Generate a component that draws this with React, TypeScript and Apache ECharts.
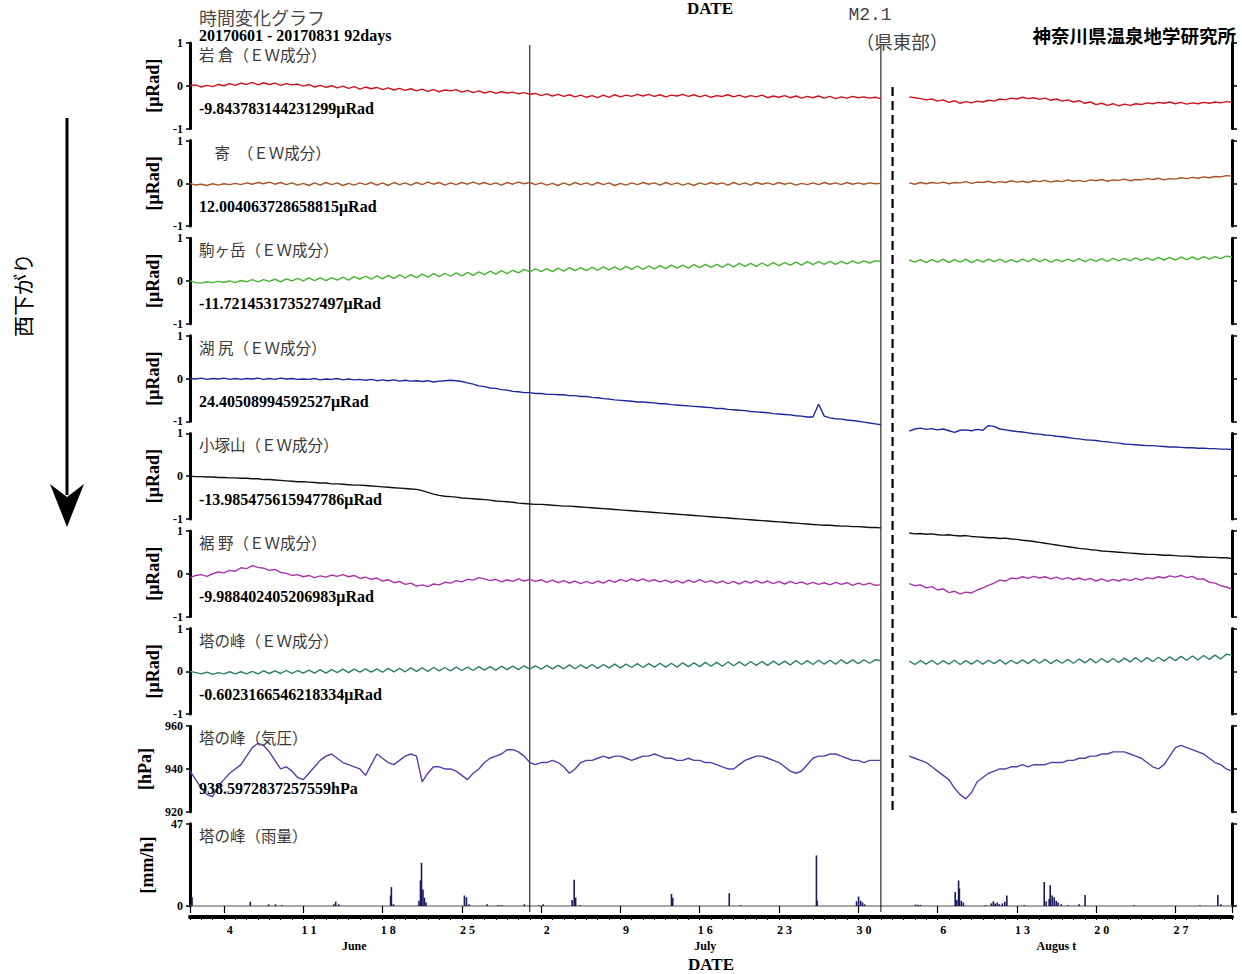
import React, { useEffect, useRef } from "react";
import * as echarts from "echarts";

// ---------- DATA ----------
const stationTitles = [
  "岩 倉（ＥＷ成分）",
  "　寄　（ＥＷ成分）",
  "駒ヶ岳（ＥＷ成分）",
  "湖 尻（ＥＷ成分）",
  "小塚山（ＥＷ成分）",
  "裾 野（ＥＷ成分）",
  "塔の峰（ＥＷ成分）",
  "塔の峰（気圧）",
  "塔の峰（雨量）",
];
const baseValueTexts = [
  "-9.843783144231299μRad",
  "12.004063728658815μRad",
  "-11.721453173527497μRad",
  "24.40508994592527μRad",
  "-13.985475615947786μRad",
  "-9.988402405206983μRad",
  "-0.6023166546218334μRad",
  "938.5972837257559hPa",
];
const yUnitNames = ["[μRad]", "[μRad]", "[μRad]", "[μRad]", "[μRad]", "[μRad]", "[μRad]", "[hPa]", "[mm/h]"];
const seriesColors = ["#d0121c", "#a4552a", "#46b232", "#1c2a9e", "#111111", "#a834a8", "#2e7d6e", "#5a3ca8"];

// sampled every 12 hours from 2017-06-01 00:00 (index * 0.5 day); null = no data
const iwakura = [
  0.00, 0.02, -0.03, 0.01, -0.02, 0.03, 0.00, 0.05, 0.01, 0.06,
  0.03, 0.08, 0.02, 0.07, 0.03, 0.06, 0.01, 0.05, 0.02, 0.04,
  -0.01, 0.03, -0.03, 0.01, -0.04, 0.00, -0.05, -0.01, -0.06, -0.02,
  -0.08, -0.03, -0.07, -0.04, -0.09, -0.05, -0.10, -0.06, -0.11, -0.07,
  -0.12, -0.08, -0.13, -0.09, -0.14, -0.10, -0.12, -0.09, -0.15, -0.11,
  -0.16, -0.12, -0.17, -0.13, -0.18, -0.14, -0.17, -0.15, -0.19, -0.16,
  -0.20, -0.18, -0.23, -0.19, -0.24, -0.20, -0.25, -0.21, -0.26, -0.22,
  -0.27, -0.23, -0.28, -0.22, -0.27, -0.21, -0.26, -0.22, -0.25, -0.20,
  -0.24, -0.20, -0.25, -0.21, -0.26, -0.22, -0.24, -0.20, -0.25, -0.21,
  -0.26, -0.22, -0.27, -0.23, -0.25, -0.21, -0.26, -0.22, -0.27, -0.23,
  -0.26, -0.22, -0.28, -0.24, -0.27, -0.23, -0.28, -0.24, -0.29, -0.25,
  -0.28, -0.24, -0.29, -0.25, -0.30, -0.26, -0.29, -0.25, -0.28, -0.26,
  -0.29, -0.27, -0.30,
  null, null, null, null,
  -0.26, -0.28, -0.30,
  -0.33, -0.31, -0.36, -0.33, -0.39, -0.35, -0.41, -0.37, -0.40, -0.36,
  -0.38, -0.34, -0.36, -0.31, -0.33, -0.29, -0.31, -0.27, -0.30, -0.28,
  -0.32, -0.29, -0.34, -0.31, -0.36, -0.33, -0.38, -0.35, -0.41, -0.38,
  -0.44, -0.41, -0.46, -0.42, -0.47, -0.43, -0.46, -0.42, -0.44, -0.40,
  -0.42, -0.39, -0.41, -0.38, -0.42, -0.39, -0.43, -0.40, -0.42, -0.39,
  -0.41, -0.38, -0.40, -0.37, -0.39,
];
const yadoriki = [
  0.00, -0.04, -0.02, -0.05, -0.01, -0.04, -0.01, -0.03, 0.00, -0.03,
  0.01, -0.02, 0.02, -0.01, 0.03, -0.02, 0.02, -0.03, 0.01, -0.04,
  0.00, -0.05, 0.01, -0.04, 0.02, -0.03, 0.01, -0.05, 0.00, -0.04,
  0.01, -0.03, 0.02, -0.04, 0.01, -0.05, 0.02, -0.03, 0.01, -0.04,
  0.02, -0.03, 0.03, -0.02, 0.02, -0.04, 0.01, -0.03, 0.02, -0.02,
  0.03, -0.02, 0.02, -0.03, 0.01, -0.04, 0.02, -0.02, 0.03, -0.01,
  0.02, -0.03, 0.01, -0.04, 0.00, -0.05, 0.01, -0.04, 0.02, -0.03,
  0.01, -0.04, 0.02, -0.03, 0.01, -0.05, 0.00, -0.04, 0.01, -0.03,
  0.02, -0.02, 0.01, -0.04, 0.02, -0.03, 0.01, -0.04, 0.00, -0.05,
  0.01, -0.03, 0.02, -0.02, 0.01, -0.04, 0.02, -0.03, 0.01, -0.04,
  0.02, -0.02, 0.01, -0.03, 0.02, -0.02, 0.01, -0.04, 0.00, -0.03,
  0.01, -0.03, 0.02, -0.02, 0.01, -0.03, 0.02, -0.02, 0.01, -0.02,
  0.01, -0.01, 0.00,
  null, null, null, null,
  0.01, -0.02, 0.02,
  -0.01, 0.02, 0.00, 0.03, -0.01, 0.02, 0.01, 0.04, 0.00, 0.03,
  0.02, 0.05, 0.01, 0.04, 0.02, 0.06, 0.03, 0.05, 0.02, 0.06,
  0.04, 0.07, 0.03, 0.06, 0.04, 0.08, 0.05, 0.07, 0.04, 0.08,
  0.06, 0.09, 0.05, 0.08, 0.07, 0.10, 0.06, 0.09, 0.08, 0.11,
  0.09, 0.12, 0.08, 0.11, 0.10, 0.13, 0.11, 0.14, 0.12, 0.15,
  0.13, 0.16, 0.15, 0.18, 0.17,
];
const komagatake = [
  0.00, -0.04, -0.05, -0.02, -0.04, -0.01, -0.03, 0.00, -0.04, 0.01,
  -0.02, 0.03, -0.02, 0.03, -0.01, 0.04, -0.02, 0.05, 0.00, 0.06,
  0.00, 0.07, 0.01, 0.07, 0.01, 0.08, 0.02, 0.09, 0.02, 0.10,
  0.04, 0.11, 0.04, 0.12, 0.05, 0.13, 0.06, 0.14, 0.07, 0.15,
  0.08, 0.16, 0.09, 0.17, 0.10, 0.18, 0.11, 0.19, 0.12, 0.20,
  0.13, 0.21, 0.15, 0.23, 0.16, 0.24, 0.17, 0.25, 0.19, 0.27,
  0.21, 0.28, 0.22, 0.29, 0.22, 0.30, 0.23, 0.31, 0.24, 0.31,
  0.24, 0.32, 0.25, 0.33, 0.26, 0.33, 0.26, 0.34, 0.27, 0.35,
  0.27, 0.35, 0.28, 0.36, 0.29, 0.37, 0.30, 0.37, 0.30, 0.38,
  0.31, 0.39, 0.32, 0.39, 0.32, 0.40, 0.33, 0.41, 0.34, 0.41,
  0.34, 0.42, 0.35, 0.43, 0.36, 0.43, 0.37, 0.44, 0.37, 0.45,
  0.38, 0.45, 0.39, 0.46, 0.39, 0.46, 0.40, 0.47, 0.41, 0.47,
  0.42, 0.47, 0.46,
  null, null, null, null,
  0.49, 0.44, 0.50,
  0.43, 0.50, 0.44, 0.51, 0.43, 0.50, 0.44, 0.51, 0.43, 0.50,
  0.44, 0.51, 0.45, 0.51, 0.44, 0.50, 0.44, 0.51, 0.45, 0.52,
  0.45, 0.51, 0.44, 0.50, 0.45, 0.51, 0.46, 0.52, 0.45, 0.51,
  0.46, 0.52, 0.46, 0.53, 0.47, 0.53, 0.47, 0.54, 0.48, 0.54,
  0.48, 0.55, 0.49, 0.55, 0.49, 0.56, 0.50, 0.56, 0.50, 0.57,
  0.51, 0.57, 0.52, 0.58, 0.56,
];
const kojiri = [
  0.00, -0.01, 0.01, -0.02, 0.00, -0.01, 0.01, -0.02, 0.00, -0.02,
  0.00, -0.01, 0.01, -0.02, 0.00, -0.02, 0.01, -0.01, 0.00, -0.02,
  -0.01, -0.02, 0.00, -0.03, -0.01, -0.02, 0.00, -0.03, -0.01, -0.03,
  -0.02, -0.04, -0.02, -0.05, -0.03, -0.05, -0.03, -0.06, -0.04, -0.06,
  -0.05, -0.07, -0.05, -0.08, -0.06, -0.05, -0.04, -0.05, -0.07, -0.10,
  -0.13, -0.17, -0.19, -0.22, -0.23, -0.26, -0.27, -0.30, -0.31, -0.33,
  -0.33, -0.35, -0.35, -0.37, -0.37, -0.38, -0.38, -0.40, -0.40, -0.42,
  -0.42, -0.44, -0.45, -0.47, -0.48, -0.50, -0.51, -0.52, -0.53, -0.55,
  -0.55, -0.56, -0.57, -0.59, -0.59, -0.61, -0.62, -0.63, -0.64, -0.65,
  -0.66, -0.67, -0.68, -0.70, -0.70, -0.72, -0.73, -0.74, -0.75, -0.77,
  -0.78, -0.79, -0.80, -0.82, -0.83, -0.84, -0.85, -0.87, -0.88, -0.90,
  -0.90, -0.60, -0.88, -0.92, -0.94, -0.95, -0.97, -0.98, -1.00, -1.02,
  -1.04, -1.06, -1.08,
  null, null, null, null,
  -1.23, -1.18, -1.16,
  -1.19, -1.17, -1.20, -1.18, -1.22, -1.26, -1.21, -1.20, -1.22, -1.19,
  -1.21, -1.10, -1.12, -1.18, -1.20, -1.22, -1.24, -1.25, -1.27, -1.29,
  -1.30, -1.32, -1.33, -1.35, -1.36, -1.38, -1.40, -1.41, -1.43, -1.44,
  -1.45, -1.47, -1.48, -1.50, -1.51, -1.53, -1.54, -1.55, -1.56, -1.57,
  -1.57, -1.58, -1.59, -1.60, -1.60, -1.61, -1.62, -1.62, -1.63, -1.63,
  -1.64, -1.64, -1.65, -1.65, -1.66,
];
const kozukayama = [
  0.00, -0.01, -0.01, -0.02, -0.02, -0.03, -0.03, -0.04, -0.04, -0.05,
  -0.05, -0.06, -0.06, -0.08, -0.08, -0.09, -0.10, -0.11, -0.12, -0.13,
  -0.13, -0.14, -0.15, -0.16, -0.16, -0.18, -0.18, -0.19, -0.20, -0.21,
  -0.21, -0.22, -0.23, -0.24, -0.25, -0.26, -0.27, -0.28, -0.29, -0.30,
  -0.31, -0.34, -0.38, -0.42, -0.45, -0.47, -0.48, -0.49, -0.51, -0.52,
  -0.53, -0.54, -0.55, -0.56, -0.58, -0.59, -0.60, -0.61, -0.63, -0.64,
  -0.65, -0.66, -0.66, -0.67, -0.68, -0.69, -0.70, -0.70, -0.71, -0.72,
  -0.73, -0.74, -0.75, -0.76, -0.77, -0.78, -0.79, -0.80, -0.81, -0.82,
  -0.83, -0.84, -0.85, -0.86, -0.87, -0.88, -0.89, -0.90, -0.91, -0.92,
  -0.93, -0.94, -0.95, -0.96, -0.97, -0.98, -0.99, -1.00, -1.01, -1.02,
  -1.03, -1.04, -1.05, -1.06, -1.07, -1.08, -1.09, -1.10, -1.11, -1.12,
  -1.13, -1.14, -1.15, -1.15, -1.16, -1.17, -1.17, -1.18, -1.18, -1.19,
  -1.20, -1.20, -1.21,
  null, null, null, null,
  -1.33, -1.35, -1.34,
  -1.36, -1.35, -1.37, -1.38, -1.37, -1.39, -1.40, -1.39, -1.41, -1.42,
  -1.43, -1.44, -1.44, -1.46, -1.45, -1.47, -1.48, -1.50, -1.51, -1.53,
  -1.55, -1.57, -1.59, -1.61, -1.63, -1.65, -1.67, -1.69, -1.70, -1.72,
  -1.73, -1.75, -1.76, -1.77, -1.78, -1.79, -1.80, -1.81, -1.82, -1.83,
  -1.83, -1.84, -1.85, -1.85, -1.86, -1.87, -1.87, -1.88, -1.89, -1.89,
  -1.90, -1.90, -1.91, -1.91, -1.93,
];
const susono = [
  -0.09, -0.04, -0.02, -0.06, 0.00, 0.04, 0.02, 0.08, 0.06, 0.14,
  0.12, 0.19, 0.15, 0.13, 0.08, 0.10, 0.03, 0.01, -0.04, -0.02,
  -0.07, -0.04, -0.09, -0.05, -0.08, -0.03, -0.06, -0.02, -0.07, -0.04,
  -0.11, -0.08, -0.13, -0.10, -0.17, -0.14, -0.21, -0.18, -0.25, -0.22,
  -0.29, -0.26, -0.30, -0.24, -0.26, -0.20, -0.22, -0.16, -0.19, -0.13,
  -0.15, -0.09, -0.12, -0.16, -0.13, -0.19, -0.14, -0.18, -0.12, -0.17,
  -0.13, -0.18, -0.14, -0.20, -0.15, -0.21, -0.16, -0.22, -0.17, -0.23,
  -0.18, -0.23, -0.17, -0.22, -0.15, -0.20, -0.13, -0.18, -0.12, -0.17,
  -0.12, -0.18, -0.14, -0.19, -0.15, -0.21, -0.16, -0.22, -0.15, -0.20,
  -0.14, -0.20, -0.16, -0.22, -0.17, -0.23, -0.18, -0.24, -0.17, -0.22,
  -0.16, -0.22, -0.17, -0.23, -0.18, -0.24, -0.18, -0.23, -0.19, -0.25,
  -0.20, -0.25, -0.21, -0.26, -0.20, -0.25, -0.21, -0.27, -0.22, -0.26,
  -0.22, -0.27, -0.26,
  null, null, null, null,
  -0.23, -0.28, -0.26,
  -0.33, -0.30, -0.38, -0.35, -0.44, -0.41, -0.47, -0.43, -0.45, -0.38,
  -0.33, -0.27, -0.22, -0.15, -0.17, -0.10, -0.12, -0.07, -0.11, -0.06,
  -0.10, -0.07, -0.12, -0.08, -0.13, -0.09, -0.14, -0.10, -0.15, -0.11,
  -0.17, -0.12, -0.18, -0.13, -0.17, -0.12, -0.16, -0.11, -0.15, -0.09,
  -0.12, -0.07, -0.10, -0.05, -0.08, -0.04, -0.09, -0.06, -0.13, -0.12,
  -0.20, -0.22, -0.28, -0.31, -0.36,
];
const tonomineEW = [
  0.00, -0.03, -0.06, -0.02, -0.07, -0.03, -0.06, -0.01, -0.06, -0.01,
  -0.06, 0.00, -0.06, 0.01, -0.05, 0.01, -0.05, 0.02, -0.05, 0.02,
  -0.04, 0.03, -0.04, 0.04, -0.04, 0.04, -0.03, 0.05, -0.03, 0.05,
  -0.02, 0.06, -0.02, 0.06, -0.02, 0.07, -0.01, 0.07, -0.01, 0.08,
  0.00, 0.08, 0.00, 0.09, 0.01, 0.09, 0.01, 0.10, 0.02, 0.10,
  0.02, 0.11, 0.03, 0.11, 0.03, 0.12, 0.04, 0.12, 0.04, 0.13,
  0.05, 0.13, 0.05, 0.14, 0.06, 0.14, 0.06, 0.15, 0.06, 0.15,
  0.07, 0.16, 0.07, 0.16, 0.08, 0.17, 0.08, 0.17, 0.09, 0.18,
  0.09, 0.18, 0.10, 0.19, 0.10, 0.19, 0.10, 0.20, 0.11, 0.20,
  0.11, 0.21, 0.12, 0.21, 0.12, 0.22, 0.13, 0.22, 0.13, 0.23,
  0.14, 0.23, 0.14, 0.24, 0.15, 0.24, 0.15, 0.25, 0.16, 0.25,
  0.16, 0.26, 0.17, 0.26, 0.17, 0.27, 0.18, 0.27, 0.18, 0.27,
  0.19, 0.27, 0.25,
  null, null, null, null,
  0.24, 0.16, 0.25,
  0.17, 0.26, 0.16, 0.25, 0.17, 0.26, 0.16, 0.25, 0.17, 0.26,
  0.17, 0.26, 0.18, 0.27, 0.17, 0.26, 0.18, 0.27, 0.18, 0.28,
  0.19, 0.28, 0.18, 0.27, 0.19, 0.28, 0.19, 0.29, 0.20, 0.29,
  0.20, 0.30, 0.21, 0.30, 0.21, 0.31, 0.22, 0.32, 0.22, 0.32,
  0.23, 0.33, 0.24, 0.34, 0.25, 0.35, 0.26, 0.36, 0.27, 0.37,
  0.28, 0.38, 0.29, 0.40, 0.38,
];
const tonominePressure = [
  939, 935, 931, 928, 927, 932, 935, 938, 940, 942,
  946, 950, 952, 951, 948, 944, 940, 941, 939, 936,
  935, 938, 941, 944, 946, 947, 945, 943, 942, 941,
  940, 937, 942, 947, 945, 943, 942, 944, 946, 947,
  946, 934, 938, 941, 941, 940, 940, 939, 937, 935,
  938, 940, 943, 945, 946, 947, 949, 949, 948, 946,
  943, 942, 943, 943, 944, 943, 941, 938, 940, 943,
  944, 944, 945, 946, 945, 946, 946, 945, 944, 945,
  946, 946, 947, 946, 945, 945, 944, 944, 945, 944,
  944, 943, 943, 942, 941, 940, 940, 942, 944, 945,
  946, 946, 945, 944, 943, 941, 939, 938, 939, 942,
  945, 946, 946, 947, 947, 946, 945, 944, 944, 943,
  944, 944, 944,
  null, null, null, null,
  946, 945, 944,
  943, 941, 939, 937, 935, 931, 928, 926, 929, 934,
  936, 938, 939, 940, 940, 941, 941, 942, 941, 942,
  942, 942, 943, 943, 943, 944, 944, 945, 945, 946,
  946, 947, 947, 948, 948, 948, 947, 946, 945, 943,
  941, 940, 942, 946, 950, 951, 950, 949, 948, 947,
  945, 943, 942, 940, 939,
];

// hourly rainfall spikes: day offset from 2017-06-01 00:00, mm/h
const rainDays = [
  0.18, 5.32, 6.94, 7.55, 8.1, 12.69, 12.86, 13.13, 17.71, 17.78, 17.97,
  20.22, 20.35, 20.44, 20.57, 20.7, 20.84, 24.23, 24.41, 24.64, 26.23, 27.22, 27.49, 29.52,
  30.81, 31.19, 33.74, 33.92, 34.05, 34.42, 42.51, 42.62, 47.61, 48.62, 55.31, 55.37,
  58.85, 59.03, 59.21, 59.38, 59.56, 64.05, 64.27, 64.49, 67.56, 67.7, 67.86, 67.93, 68.1, 68.28,
  70.22, 70.75, 70.93, 71.1, 71.28, 71.45, 71.72, 71.94, 72.12, 73.66,
  75.42, 75.59, 75.86, 75.95, 76.12, 76.3, 76.48, 76.65, 76.92, 77.53, 78.5, 79.03,
  83.35, 89.16, 90.75, 91.01,
];
const rainMm = [
  5, 2.4, 1, 1, 0.5, 1, 2.5, 1, 6, 10.8, 1,
  3, 14.6, 24.7, 9.4, 4.8, 2, 6, 5, 1, 1, 0.5, 0.5, 1,
  0.5, 1, 3.5, 15, 4.8, 0.5, 6.9, 4.7, 7.3, 0.5, 28.9, 3,
  2.7, 5.4, 3, 2, 1, 0.8, 0.7, 0.6, 8, 3.5, 14.6, 10, 3, 2,
  0.5, 1.5, 2.7, 1.5, 2, 1, 1.5, 2.5, 6, 0.5,
  13.7, 2.7, 4, 11.9, 6, 5, 3, 2, 1, 0.5, 1, 6.3,
  0.5, 0.5, 6.3, 1,
];

const monthLengths = [30, 31, 31];
const dayTickIdx = [3, 10, 17, 24, 31, 38, 45, 52, 59, 66, 73, 80, 87];
const dayTickLabels = ["4", "1 1", "1 8", "2 5", "2", "9", "1 6", "2 3", "3 0", "6", "1 3", "2 0", "2 7"];
const majorTickIdx = [0, 3, 10, 17, 24, 31, 38, 45, 52, 59, 66, 73, 80, 87];
const monthLabelIdx = [14, 45, 76];
const monthLabels = ["June", "July", "Augus t"];
const monthBoundaryDays = [30, 61];
const quakeDay = 62.03;
const SAMPLE_STEP_DAYS = 0.5;
const TOTAL_DAYS = 92;

const ewSeries = [iwakura, yadoriki, komagatake, kojiri, kozukayama, susono, tonomineEW];

// ---------- LAYOUT ----------
const W = 1242;
const H = 974;
const PLOT_LEFT = 190;
const PLOT_RIGHT = 10;
const PANEL_TOP0 = 43;
const PANEL_STEP = 97.6;
const PANEL_H = 85.5;
const RAIN_H = 87.5;
const SERIF = "Liberation Serif";
const CJK = "Noto Sans CJK JP";

const panelTop = (i: number) => PANEL_TOP0 + PANEL_STEP * i;

function toPoints(arr: (number | null)[]) {
  return arr.map((v, k) => [k * SAMPLE_STEP_DAYS, v === null ? "-" : v]);
}

function buildOption() {
  const grids: any[] = [];
  const xAxes: any[] = [];
  const yAxes: any[] = [];
  const series: any[] = [];
  const graphics: any[] = [];

  const dayNames: string[] = [];
  monthLengths.forEach((len) => {
    for (let d = 1; d <= len; d++) dayNames.push(String(d));
  });

  const yLabelStyle = {
    color: "#000",
    fontFamily: SERIF,
    fontWeight: "bold",
    fontSize: 12,
    margin: 7,
  };

  for (let i = 0; i < 9; i++) {
    const isRain = i === 8;
    const isPress = i === 7;
    const h = isRain ? RAIN_H : PANEL_H;
    grids.push({ left: PLOT_LEFT, right: PLOT_RIGHT, top: panelTop(i), height: h, containLabel: false });
    if (!isRain) {
      xAxes.push({ gridIndex: i, type: "value", min: 0, max: TOTAL_DAYS, show: false });
    } else {
      xAxes.push({
        gridIndex: i,
        type: "value",
        min: 0,
        max: TOTAL_DAYS,
        position: "bottom",
        axisLine: { show: true, onZero: false, lineStyle: { color: "#8a8a8a", width: 1.5 } },
        axisTick: { show: false },
        axisLabel: { show: false },
        splitLine: { show: false },
      });
    }
    const ymin = isRain ? 0 : isPress ? 920 : -1;
    const ymax = isRain ? 47 : isPress ? 960 : 1;
    const yint = isRain ? 47 : isPress ? 20 : 1;
    yAxes.push({
      gridIndex: i,
      type: "value",
      min: ymin,
      max: ymax,
      interval: yint,
      position: "left",
      axisLine: { show: true, onZero: false, lineStyle: { color: "#000", width: 3 } },
      axisTick: { show: true, length: 4, lineStyle: { color: "#000", width: 1.5 } },
      axisLabel: yLabelStyle,
      splitLine: { show: false },
      name: yUnitNames[i],
      nameLocation: "middle",
      nameRotate: 90,
      nameGap: isPress ? 36 : isRain ? 34 : 26,
      nameTextStyle: { color: "#000", fontFamily: SERIF, fontWeight: "bold", fontSize: 18 },
    });
    yAxes.push({
      gridIndex: i,
      type: "value",
      min: ymin,
      max: ymax,
      interval: yint,
      position: "right",
      axisLine: { show: true, onZero: false, lineStyle: { color: "#000", width: 3 } },
      axisTick: { show: true, length: 5, lineStyle: { color: "#000", width: 1.5 } },
      axisLabel: { show: false },
      splitLine: { show: false },
    });
  }

  // bottom date axis (category days, ticks at day boundaries)
  const rainGrid = 8;
  xAxes.push({
    gridIndex: rainGrid,
    type: "category",
    data: dayNames,
    boundaryGap: true,
    position: "bottom",
    offset: 11,
    axisLine: { show: true, onZero: false, lineStyle: { color: "#000", width: 4 } },
    axisTick: { show: true, interval: 0, length: 3, lineStyle: { color: "#000", width: 1 } },
    axisLabel: {
      interval: (idx: number) => dayTickIdx.indexOf(idx) >= 0,
      formatter: (_v: string, idx: number) => {
        const k = dayTickIdx.indexOf(idx);
        return k >= 0 ? dayTickLabels[k] : "";
      },
      color: "#000",
      fontFamily: SERIF,
      fontWeight: "bold",
      fontSize: 12,
      margin: 7,
    },
    splitLine: { show: false },
  });
  xAxes.push({
    gridIndex: rainGrid,
    type: "category",
    data: dayNames,
    boundaryGap: true,
    position: "bottom",
    offset: 11,
    axisLine: { show: false },
    axisTick: {
      show: true,
      interval: (idx: number) => majorTickIdx.indexOf(idx) >= 0,
      length: 7,
      lineStyle: { color: "#000", width: 1.2 },
    },
    axisLabel: { show: false },
    splitLine: { show: false },
  });
  xAxes.push({
    gridIndex: rainGrid,
    type: "category",
    data: dayNames,
    boundaryGap: true,
    position: "bottom",
    offset: 11,
    axisLine: { show: false },
    axisTick: { show: false },
    axisLabel: {
      interval: (idx: number) => monthLabelIdx.indexOf(idx) >= 0,
      formatter: (_v: string, idx: number) => {
        const k = monthLabelIdx.indexOf(idx);
        return k >= 0 ? monthLabels[k] : "";
      },
      color: "#000",
      fontFamily: SERIF,
      fontWeight: "bold",
      fontSize: 12,
      margin: 23,
    },
    name: "DATE",
    nameLocation: "middle",
    nameGap: 39,
    nameTextStyle: { color: "#000", fontFamily: SERIF, fontWeight: "bold", fontSize: 17 },
    splitLine: { show: false },
  });

  // overlay grid for month boundaries
  const lineGrid = grids.length;
  grids.push({ left: PLOT_LEFT, right: PLOT_RIGHT, top: 45, height: 867 });
  const lineX = xAxes.length;
  xAxes.push({ gridIndex: lineGrid, type: "value", min: 0, max: TOTAL_DAYS, show: false });
  const lineY = yAxes.length;
  yAxes.push({ gridIndex: lineGrid, type: "value", min: 0, max: 1, show: false });

  // overlay grid for earthquake dashed line
  const eqGrid = grids.length;
  grids.push({ left: PLOT_LEFT, right: PLOT_RIGHT, top: 85, height: 725 });
  const eqX = xAxes.length;
  xAxes.push({ gridIndex: eqGrid, type: "value", min: 0, max: TOTAL_DAYS, show: false });
  const eqY = yAxes.length;
  yAxes.push({ gridIndex: eqGrid, type: "value", min: 0, max: 1, show: false });

  monthBoundaryDays.forEach((d) => {
    series.push({
      type: "line",
      xAxisIndex: lineX,
      yAxisIndex: lineY,
      data: [
        [d, 0],
        [d, 1],
      ],
      showSymbol: false,
      silent: true,
      lineStyle: { color: "#000", width: 1 },
      z: 1,
    });
  });
  series.push({
    type: "line",
    xAxisIndex: eqX,
    yAxisIndex: eqY,
    data: [
      [quakeDay, 0],
      [quakeDay, 1],
    ],
    showSymbol: false,
    silent: true,
    lineStyle: { color: "#000", width: 2.2, type: [9, 5] },
    z: 1,
  });

  ewSeries.forEach((arr, i) => {
    series.push({
      type: "line",
      xAxisIndex: i,
      yAxisIndex: 2 * i,
      data: toPoints(arr),
      showSymbol: false,
      clip: false,
      connectNulls: false,
      lineStyle: { color: seriesColors[i], width: 1.4 },
      z: 3,
    });
  });
  series.push({
    type: "line",
    xAxisIndex: 7,
    yAxisIndex: 14,
    data: toPoints(tonominePressure),
    showSymbol: false,
    clip: false,
    connectNulls: false,
    lineStyle: { color: seriesColors[7], width: 1.4 },
    z: 3,
  });
  series.push({
    type: "bar",
    xAxisIndex: 8,
    yAxisIndex: 16,
    data: rainDays.map((d, k) => [d, rainMm[k]]),
    barWidth: 1.6,
    itemStyle: { color: "#1a1a5e" },
    z: 3,
  });

  // ---------- texts ----------
  const txt = (text: string, x: number, y: number, o: any = {}) => ({
    type: "text",
    x,
    y,
    silent: true,
    style: {
      text,
      fill: o.fill || "#000",
      fontSize: o.fontSize || 14,
      fontFamily: o.fontFamily || SERIF,
      fontWeight: o.fontWeight || "normal",
      align: o.align || "left",
      verticalAlign: "middle",
      textAlign: o.align || "left",
      textVerticalAlign: "middle",
    },
    rotation: o.rotation || 0,
    z: 10,
  });

  stationTitles.forEach((t, i) => {
    graphics.push(txt(t, 199, panelTop(i) + 11, { fill: "#3a3a3a", fontSize: 15.5, fontFamily: CJK }));
  });
  baseValueTexts.forEach((t, i) => {
    const zeroY = panelTop(i) + PANEL_H / 2;
    const dy = i === 7 ? 20 : 23;
    graphics.push(txt(t, 199, zeroY + dy, { fontSize: 16, fontWeight: "bold" }));
  });

  graphics.push(txt("時間変化グラフ", 199, 16.5, { fill: "#4a4a4a", fontSize: 18, fontFamily: CJK }));
  graphics.push(txt("20170601 - 20170831 92days", 199, 35.5, { fontSize: 16, fontWeight: "bold" }));
  graphics.push(txt("DATE", 710, 8, { fontSize: 17, fontWeight: "bold", align: "center" }));
  graphics.push(txt("M2.1", 870, 15, { fill: "#444", fontSize: 18, fontFamily: "Liberation Mono", align: "center" }));
  graphics.push(txt("（県東部）", 902, 41, { fill: "#444", fontSize: 18.5, fontFamily: CJK, align: "center" }));
  graphics.push(
    txt("神奈川県温泉地学研究所", 1236, 35, { fontSize: 18.5, fontFamily: CJK, fontWeight: "bold", align: "right" })
  );
  graphics.push(txt("西下がり", 22, 295, { fontSize: 21, fontFamily: CJK, align: "center", rotation: Math.PI / 2 }));

  // arrow
  graphics.push({
    type: "line",
    silent: true,
    shape: { x1: 67, y1: 118, x2: 67, y2: 495 },
    style: { stroke: "#000", lineWidth: 3 },
    z: 10,
  });
  graphics.push({
    type: "polygon",
    silent: true,
    shape: {
      points: [
        [50, 484],
        [67, 497],
        [84, 484],
        [67, 527],
      ],
    },
    style: { fill: "#000" },
    z: 10,
  });

  return {
    animation: false,
    backgroundColor: "#fff",
    grid: grids,
    xAxis: xAxes,
    yAxis: yAxes,
    series,
    graphic: graphics,
  };
}

export default function App() {
  const ref = useRef<HTMLDivElement>(null);
  useEffect(() => {
    document.body.style.margin = "0";
    if (!ref.current) return;
    const chart = echarts.init(ref.current, undefined, { renderer: "svg" });
    chart.setOption(buildOption() as any);
    return () => chart.dispose();
  }, []);
  return <div ref={ref} style={{ width: W, height: H, background: "#fff" }} />;
}
